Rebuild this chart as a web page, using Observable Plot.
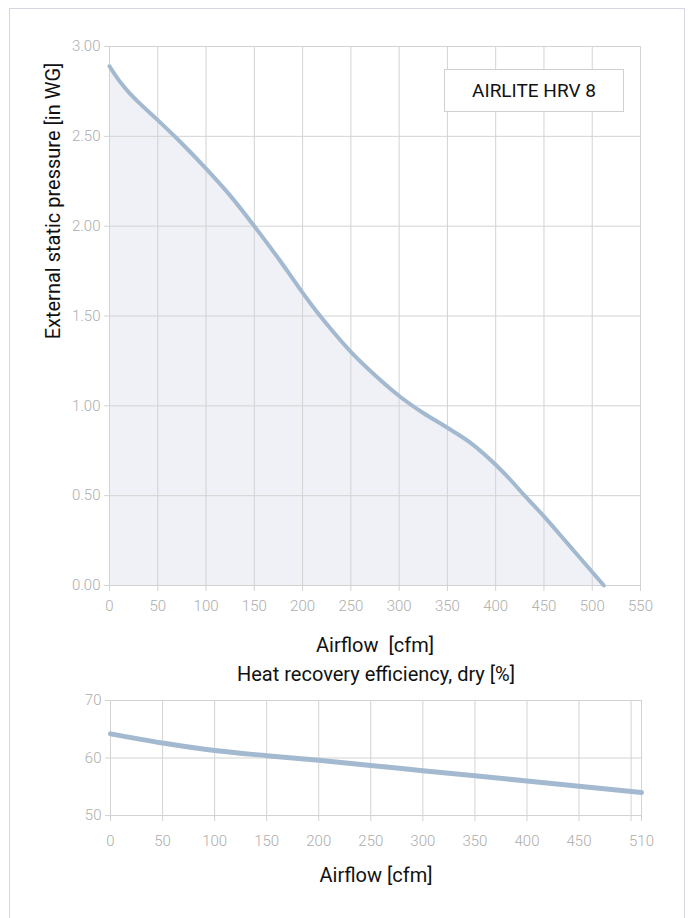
<!DOCTYPE html>
<html>
<head>
<meta charset="utf-8">
<script src="https://cdn.jsdelivr.net/npm/d3@7"></script>
<script src="https://cdn.jsdelivr.net/npm/@observablehq/plot@0.6"></script>
<style>
  html, body { margin: 0; padding: 0; background: #fff; font-family: Roboto, "DejaVu Sans", sans-serif; }
  #page { position: relative; width: 688px; height: 918px; overflow: hidden; }
  #frame { position: absolute; left: 9px; top: 8px; width: 676px; height: 930px; border: 1px solid #d6d6e6; box-sizing: border-box; }
  #top, #bottom { position: absolute; left: 0; }
  #top { top: 0; }
  #bottom { top: 650px; }
  #badge { position: absolute; left: 444px; top: 69px; width: 180px; height: 43px; box-sizing: border-box;
    border: 1px solid #d0d0d0; background: #fff; display: flex; align-items: center; justify-content: center;
    font-size: 19px; color: #111; }
  svg text { white-space: pre; }
  .ticklbl text { font-weight: 300; }
</style>
</head>
<body>
<div id="page">
  <div id="frame"></div>
  <div id="top"></div>
  <div id="bottom"></div>
  <div id="badge"></div>
</div>
<script>
// ---- data ----
const pressureAirflow = [0, 10, 20, 30, 50, 75, 100, 125, 150, 175, 200, 216, 225, 250, 275, 300, 325, 350, 375, 400, 415, 430, 450, 475, 500, 512];
const pressureValues  = [2.89, 2.81, 2.745, 2.69, 2.59, 2.46, 2.32, 2.17, 2.00, 1.82, 1.63, 1.515, 1.455, 1.30, 1.17, 1.055, 0.96, 0.878, 0.79, 0.672, 0.59, 0.50, 0.385, 0.23, 0.075, 0];

const effAirflow = [0, 50, 100, 150, 200, 250, 300, 350, 400, 450, 510];
const effValues  = [64.2, 62.6, 61.3, 60.4, 59.6, 58.7, 57.8, 56.9, 56.0, 55.1, 54.0];

const topXTicks = [0, 50, 100, 150, 200, 250, 300, 350, 400, 450, 500, 550];
const topYTicks = [0, 0.5, 1, 1.5, 2, 2.5, 3];
const bottomXGrid = [0, 50, 100, 150, 200, 250, 300, 350, 400, 450, 500, 510];
const bottomXLabels = [0, 50, 100, 150, 200, 250, 300, 350, 400, 450, 510];
const bottomYTicks = [50, 60, 70];

const badgeText = "AIRLITE HRV 8";
const topXLabel = "Airflow  [cfm]";
const topYLabel = "External static pressure [in WG]";
const bottomTitle = "Heat recovery efficiency, dry [%]";
const bottomXLabel = "Airflow [cfm]";

// ---- styling ----
const FONT = 'Roboto, "DejaVu Sans", sans-serif';
const GRID = "#d3d3d3";
const TICKTXT = "#adadad";
const LINE = "#a3b9cf";
const FILL = "#eff1f7";
const TITLE = 20;

const pressure = pressureAirflow.map((a, i) => ({a, p: pressureValues[i]}));
const eff = effAirflow.map((a, i) => ({a, e: effValues[i]}));

document.getElementById("badge").textContent = badgeText;

const topPlot = Plot.plot({
  width: 688, height: 650,
  marginTop: 46, marginBottom: 65, marginLeft: 109, marginRight: 48,
  style: {fontFamily: FONT, fontSize: "15px", background: "transparent", overflow: "visible"},
  x: {domain: [0, 550]},
  y: {domain: [0, 3]},
  marks: [
    Plot.areaY(pressure, {x: "a", y: "p", fill: FILL, curve: "monotone-x"}),
    Plot.gridX(topXTicks, {stroke: GRID, strokeOpacity: 1}),
    Plot.gridY(topYTicks, {stroke: GRID, strokeOpacity: 1}),
    Plot.axisX(topXTicks, {tickSize: 6, tickPadding: 9, stroke: GRID, fill: TICKTXT, label: null, className: "ticklbl"}),
    Plot.axisY(topYTicks, {tickSize: 5, tickPadding: 4, stroke: GRID, fill: TICKTXT, label: null, tickFormat: d3.format(".2f"), className: "ticklbl"}),
    Plot.line(pressure, {x: "a", y: "p", stroke: LINE, strokeWidth: 4, curve: "monotone-x"}),
    Plot.text([topXLabel], {frameAnchor: "bottom", dy: 60, fontSize: TITLE, fill: "#111", lineAnchor: "middle"}),
    Plot.text([topYLabel], {frameAnchor: "left", textAnchor: "middle", rotate: -90, dx: -56, dy: -115, fontSize: TITLE, fill: "#111", lineAnchor: "middle"})
  ]
});
document.getElementById("top").appendChild(topPlot);

const bottomPlot = Plot.plot({
  width: 688, height: 250,
  marginTop: 50, marginBottom: 85, marginLeft: 110, marginRight: 47,
  style: {fontFamily: FONT, fontSize: "15px", background: "transparent", overflow: "visible"},
  x: {domain: [0, 510]},
  y: {domain: [50, 70]},
  marks: [
    Plot.gridX(bottomXGrid, {stroke: GRID, strokeOpacity: 1}),
    Plot.gridY(bottomYTicks, {stroke: GRID, strokeOpacity: 1}),
    Plot.axisX(bottomXGrid, {tickSize: 6, text: null, stroke: GRID, label: null}),
    Plot.axisX(bottomXLabels, {tickSize: 0, tickPadding: 20, fill: TICKTXT, label: null, className: "ticklbl"}),
    Plot.axisY(bottomYTicks, {tickSize: 5, tickPadding: 4, stroke: GRID, fill: TICKTXT, label: null, className: "ticklbl"}),
    Plot.line(eff, {x: "a", y: "e", stroke: LINE, strokeWidth: 5, curve: "monotone-x"}),
    Plot.text([bottomTitle], {frameAnchor: "top", dy: -26, fontSize: TITLE, fill: "#111", lineAnchor: "middle"}),
    Plot.text([bottomXLabel], {frameAnchor: "bottom", dy: 60, fontSize: TITLE, fill: "#111", lineAnchor: "middle"})
  ]
});
document.getElementById("bottom").appendChild(bottomPlot);
</script>
</body>
</html>
